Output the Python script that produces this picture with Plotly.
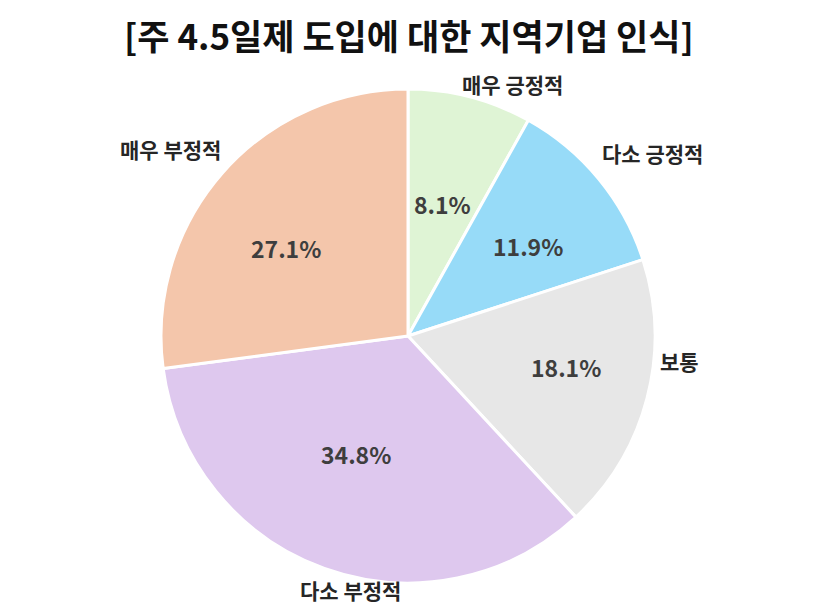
import math
import plotly.graph_objects as go

# ---- data ----
categories = ["매우 긍정적", "다소 긍정적", "보통", "다소 부정적", "매우 부정적"]
values = [8.1, 11.9, 18.1, 34.8, 27.1]
title_text = "[주 4.5일제 도입에 대한 지역기업 인식]"

# ---- style ----
colors = ["#DFF4D5", "#97DBF8", "#E7E7E7", "#DEC8EE", "#F4C6AB"]
OFF = 8                              # page body margin in the browser
W, H = 822 - OFF, 608 - OFF          # figure size
cx, cy, R = 408 - OFF, 336 - OFF, 247  # pie centre / radius (figure px)
pct_r = [0.55, 0.60, 0.65, 0.53, 0.60]  # radial placement of % text (fraction of R)
pct_off = [(0, -1), (6, 4), (3, -9), (-8, -5), (-11, 10)]  # px nudges of % text
lab_off = [(42, -13), (54, -26), (32, -37), (26, 22), (-52, -24)]  # px nudges of names
FONT = "Noto Sans CJK KR"

fig = go.Figure(go.Pie(
    labels=categories, values=values, sort=False, direction="clockwise",
    rotation=0, marker=dict(colors=colors, line=dict(color="white", width=3)),
    textinfo="none", hoverinfo="label+percent", showlegend=False,
    domain=dict(x=[(cx - R) / W, (cx + R) / W], y=[(H - cy - R) / H, (H - cy + R) / H]),
))

total = sum(values)
ann = []
cum = 0.0
for i, (c, v) in enumerate(zip(categories, values)):
    mid = (cum + v / 2) / total * 2 * math.pi
    cum += v
    r = R * pct_r[i]
    px = cx + r * math.sin(mid) + pct_off[i][0]
    py = cy - r * math.cos(mid) + pct_off[i][1]
    ann.append(dict(x=px / W, y=(H - py) / H, xref="paper", yref="paper",
                    text=f"<b>{v:.1f}%</b>", showarrow=False,
                    font=dict(family=FONT, size=23, color="#3e3e3e"),
                    xanchor="center", yanchor="middle"))
    lx = cx + R * math.sin(mid) + lab_off[i][0]
    ly = cy - R * math.cos(mid) + lab_off[i][1]
    ann.append(dict(x=lx / W, y=(H - ly) / H, xref="paper", yref="paper",
                    text=f"<b>{c}</b>", showarrow=False,
                    font=dict(family=FONT, size=21, color="#262626"),
                    xanchor="center", yanchor="middle"))

ann.append(dict(x=(409 - OFF) / W, y=1.0, xref="paper", yref="paper",
                text=f"<b>{title_text}</b>", showarrow=False,
                font=dict(family=FONT, size=35, color="#111111"),
                xanchor="center", yanchor="top", borderpad=0))

fig.update_layout(width=W, height=H, margin=dict(l=0, r=0, t=0, b=0),
                  paper_bgcolor="white", plot_bgcolor="white", annotations=ann)

fig.write_html("out.html")
